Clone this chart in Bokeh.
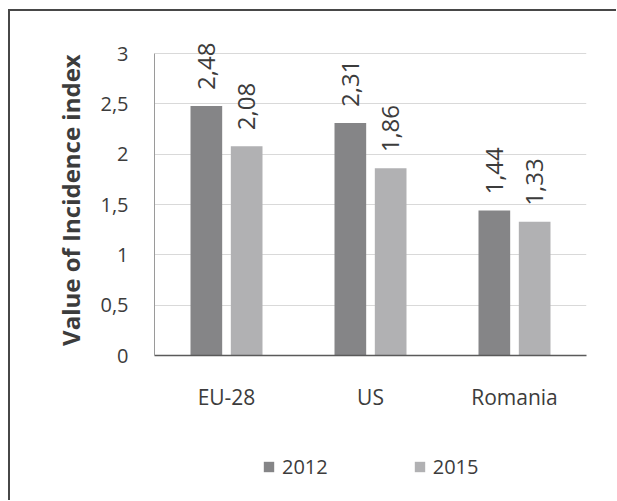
import math
from bokeh.plotting import figure
from bokeh.layouts import column
from bokeh.models import (ColumnDataSource, FactorRange, Range1d, FixedTicker, Legend,
                          LegendItem, LabelSet)
from bokeh.transform import dodge
from bokeh.core.properties import value
from bokeh.embed import file_html
from bokeh.resources import INLINE

categories = ["EU-28", "US", "Romania"]
series_names = ["2012", "2015"]
values_2012 = [2.48, 2.31, 1.44]
values_2015 = [2.08, 1.86, 1.33]
y_ticks = [0, 0.5, 1, 1.5, 2, 2.5, 3]
y_tick_labels = ["0", "0,5", "1", "1,5", "2", "2,5", "3"]
y_title = "Value of  Incidence index"

colors = ["#858587", "#b1b1b3"]
FONT = "Open Sans"
TXT = "#3c3c3c"


def fmt(v):
    return f"{v:.2f}".replace(".", ",")


source = ColumnDataSource(dict(
    cat=categories,
    v2012=values_2012,
    v2015=values_2015,
    l2012=[fmt(v) for v in values_2012],
    l2015=[fmt(v) for v in values_2015],
))

# the range reaches a little above 3 so the rotated value labels are not clipped;
# the axis line and the grid stop at 3
p = figure(
    x_range=FactorRange(factors=categories, range_padding=0),
    y_range=Range1d(0, 3.15),
    width=606, height=420,
    output_backend="svg", toolbar_location=None,
    min_border_left=144, min_border_right=30,
    min_border_top=27, min_border_bottom=76,
)
p.outline_line_color = None
p.background_fill_color = "white"
p.border_fill_color = "white"

offsets = [-0.14, 0.14]
for name, off, col in zip(series_names, offsets, colors):
    p.vbar(x=dodge("cat", off, range=p.x_range), top="v" + name, width=0.22,
           source=source, fill_color=col, line_color=None)
    labels = LabelSet(x=dodge("cat", off, range=p.x_range), y="v" + name, text="l" + name,
                      source=source, angle=math.pi / 2, text_align="left",
                      text_baseline="middle", y_offset=16,
                      text_font=value(FONT), text_font_size="24px", text_color=TXT)
    p.add_layout(labels)

# axes
p.yaxis.ticker = FixedTicker(ticks=y_ticks)
p.yaxis.bounds = (y_ticks[0], y_ticks[-1])
p.yaxis.major_label_overrides = {t: l for t, l in zip(y_ticks, y_tick_labels)}
p.yaxis.axis_label = y_title
p.yaxis.axis_label_text_font = FONT
p.yaxis.axis_label_text_font_style = "bold"
p.yaxis.axis_label_text_font_size = "24px"
p.yaxis.axis_label_text_color = TXT
p.yaxis.axis_label_standoff = 10
p.yaxis.major_label_text_font = FONT
p.yaxis.major_label_text_font_size = "20px"
p.yaxis.major_label_text_color = TXT
p.yaxis.major_label_standoff = 26
p.yaxis.major_tick_line_color = None
p.yaxis.major_tick_out = 0
p.yaxis.major_tick_in = 0
p.yaxis.minor_tick_line_color = None
p.yaxis.axis_line_color = "#9a9a9a"

p.xaxis.major_label_text_font = FONT
p.xaxis.major_label_text_font_size = "21px"
p.xaxis.major_label_text_color = TXT
p.xaxis.major_label_standoff = 27
p.xaxis.major_tick_line_color = None
p.xaxis.major_tick_out = 0
p.xaxis.major_tick_in = 0
p.xaxis.axis_line_color = "#5a5a5a"
p.xaxis.axis_line_width = 1.5

p.xgrid.grid_line_color = None
p.ygrid.grid_line_color = "#d9d9d9"
p.ygrid.grid_line_width = 1

# legend strip below the chart (its frame is aligned with the chart's frame)
p2 = figure(width=606, height=69, output_backend="svg", toolbar_location=None,
            min_border=0, x_range=p.x_range, y_range=Range1d(10, 11))
p2.axis.visible = False
p2.grid.visible = False
p2.outline_line_color = None
legend_renderers = [
    p2.vbar(x=dodge("cat", off, range=p2.x_range), top="v" + name, width=0.22,
            source=source, fill_color=col, line_color=None)
    for name, off, col in zip(series_names, offsets, colors)
]
legend = Legend(
    items=[LegendItem(label=n, renderers=[r]) for n, r in zip(series_names, legend_renderers)],
    orientation="horizontal", location=(108, 20),
    glyph_width=13, glyph_height=13, label_standoff=7, spacing=85,
    padding=0, margin=0, border_line_color=None, background_fill_alpha=0,
    label_text_font=FONT, label_text_font_size="20px", label_text_color=TXT,
)
p2.add_layout(legend, "center")

layout = column(p, p2, spacing=0)
layout.styles = {"margin-left": "8px", "margin-top": "9px",
                 "border-top": "2px solid #474747", "border-left": "2px solid #474747"}

open("out.html", "w").write(file_html(layout, INLINE))
